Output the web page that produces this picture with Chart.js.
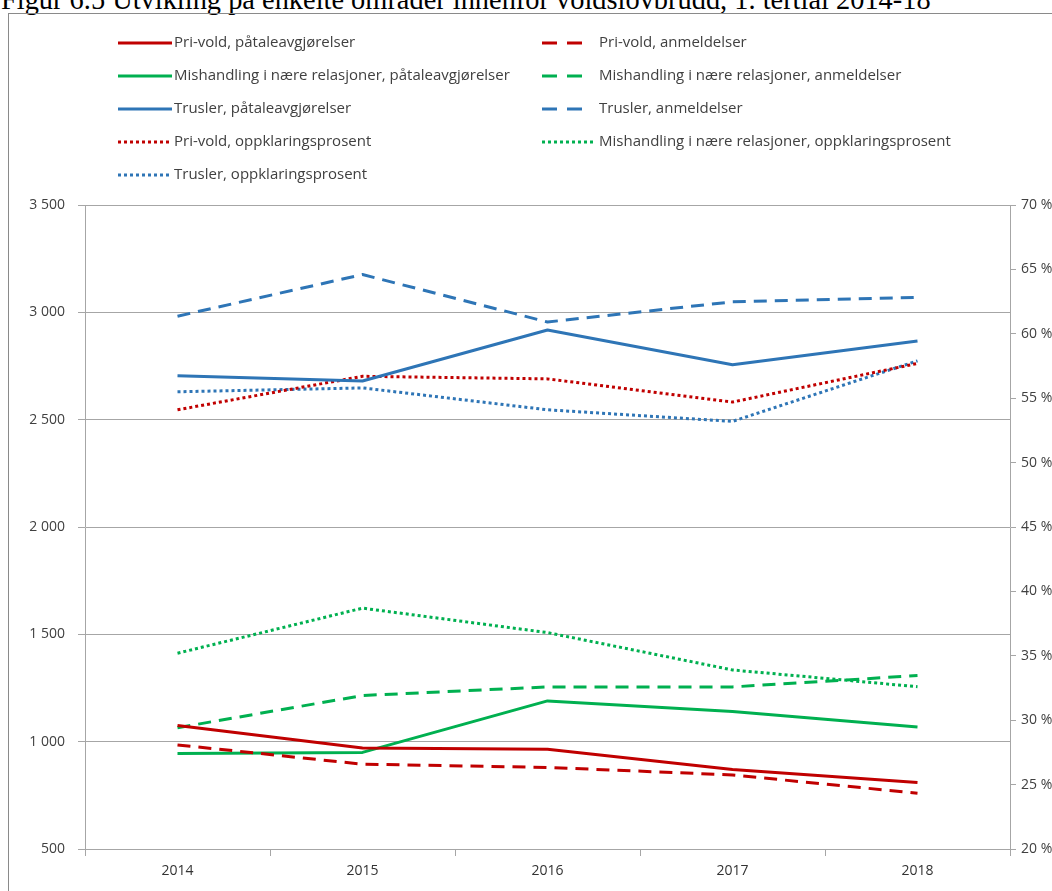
<!DOCTYPE html>
<html>
<head>
<meta charset="utf-8">
<script src="https://cdn.jsdelivr.net/npm/chart.js@4.4.1/dist/chart.umd.min.js"></script>
<style>
  html, body { margin:0; padding:0; background:#fff; width:1052px; height:891px; overflow:hidden; }
  #title { position:absolute; left:1px; top:-14px; font-family:"Liberation Serif", "Times New Roman", serif; font-size:28.4px; line-height:28px; color:#000; white-space:nowrap; }
  #frame { position:absolute; left:8px; top:13px; width:1100px; height:950px; border:1px solid #8a8a8a; }
  #wrap { position:absolute; left:9px; top:14px; width:1043px; height:877px; }
</style>
</head>
<body>
<div id="title">Figur 6.5 Utvikling på enkelte områder innenfor voldslovbrudd, 1. tertial 2014-18</div>
<div id="frame"></div>
<div id="wrap"><canvas id="c" width="1043" height="877"></canvas></div>
<script>
// ---- data ----
const years = ['2014', '2015', '2016', '2017', '2018'];
const priVoldPatale   = [1075, 970, 965, 870, 810];
const priVoldAnmeld   = [985, 895, 880, 845, 760];
const mishPatale      = [945, 950, 1190, 1140, 1068];
const mishAnmeld      = [1065, 1215, 1255, 1255, 1308];
const truslerPatale   = [2705, 2680, 2918, 2756, 2866];
const truslerAnmeld   = [2982, 3176, 2955, 3049, 3070];
const priVoldOpp      = [54.1, 56.7, 56.5, 54.7, 57.7];
const mishOpp         = [35.2, 38.7, 36.8, 33.9, 32.6];
const truslerOpp      = [55.5, 55.8, 54.1, 53.2, 57.9];

const RED = '#C00000', GREEN = '#00B050', BLUE = '#2E75B6';
const DASH = [13, 8], DOT = [3, 3];

function ds(label, data, color, dash, axis) {
  return { label, data, borderColor: color, backgroundColor: color, borderWidth: 3,
    borderDash: dash, borderCapStyle: 'butt', borderJoinStyle: 'round', pointRadius: 0,
    pointHoverRadius: 0, tension: 0, fill: false, yAxisID: axis, _style: dash === DASH ? 'dash' : (dash === DOT ? 'dot' : 'solid') };
}

const datasets = [
  ds('Pri-vold, påtaleavgjørelser', priVoldPatale, RED, [], 'y'),
  ds('Pri-vold, anmeldelser', priVoldAnmeld, RED, DASH, 'y'),
  ds('Mishandling i nære relasjoner, påtaleavgjørelser', mishPatale, GREEN, [], 'y'),
  ds('Mishandling i nære relasjoner, anmeldelser', mishAnmeld, GREEN, DASH, 'y'),
  ds('Trusler, påtaleavgjørelser', truslerPatale, BLUE, [], 'y'),
  ds('Trusler, anmeldelser', truslerAnmeld, BLUE, DASH, 'y'),
  ds('Pri-vold, oppklaringsprosent', priVoldOpp, RED, DOT, 'y1'),
  ds('Mishandling i nære relasjoner, oppklaringsprosent', mishOpp, GREEN, DOT, 'y1'),
  ds('Trusler, oppklaringsprosent', truslerOpp, BLUE, DOT, 'y1'),
];

const legendPlugin = {
  id: 'gridLegend',
  afterDraw(chart) {
    const ctx = chart.ctx;
    ctx.save();
    const colX = [109, 533];
    chart.data.datasets.forEach((d, i) => {
      const row = Math.floor(i / 2), col = i % 2;
      const y = 29 + row * 33;
      const x0 = colX[col];
      ctx.strokeStyle = d.borderColor;
      ctx.lineWidth = 3;
      ctx.lineCap = 'butt';
      let len = 54;
      if (d._style === 'dash') { ctx.setLineDash([15, 10]); len = 40; }
      else if (d._style === 'dot') { ctx.setLineDash([3, 3]); len = 53; }
      else { ctx.setLineDash([]); len = 54; }
      ctx.beginPath();
      ctx.moveTo(x0, y);
      ctx.lineTo(x0 + len, y);
      ctx.stroke();
      ctx.setLineDash([]);
      ctx.fillStyle = '#404040';
      ctx.font = '15px "Open Sans", sans-serif';
      ctx.textBaseline = 'middle';
      ctx.textAlign = 'left';
      ctx.fillText(d.label, x0 + (col === 0 ? 56 : 57), y);
    });
    ctx.restore();
  }
};

const tickFont = { family: '"Open Sans", sans-serif', size: 14 };
const GRID = '#a6a6a6';

new Chart(document.getElementById('c'), {
  type: 'line',
  data: { labels: years, datasets },
  plugins: [legendPlugin],
  options: {
    responsive: false,
    animation: false,
    devicePixelRatio: 1,
    layout: { padding: { top: 191, left: 0, right: 0, bottom: 0 } },
    plugins: { legend: { display: false }, tooltip: { enabled: false }, title: { display: false } },
    scales: {
      x: {
        type: 'category',
        offset: true,
        grid: { offset: true, drawOnChartArea: false, drawTicks: true, tickLength: 7, color: GRID },
        border: { display: true, color: GRID, width: 1 },
        ticks: { color: '#333333', font: { family: '"Liberation Sans Narrow", "Open Sans", sans-serif', size: 14 }, padding: 7, maxRotation: 0 },
        afterFit(s) { s.height = 42; }
      },
      y: {
        position: 'left',
        min: 500, max: 3500,
        ticks: { stepSize: 500, color: '#404040', font: tickFont, padding: 13,
          callback: v => String(v).replace(/\B(?=(\d{3})+(?!\d))/g, ' ') },
        grid: { color: GRID, tickLength: 7, drawTicks: true },
        border: { display: true, color: GRID, width: 1 },
        afterFit(s) { s.width = 76; }
      },
      y1: {
        position: 'right',
        min: 20, max: 70,
        ticks: { stepSize: 5, color: '#404040', font: tickFont, padding: 5,
          callback: v => v + ' %' },
        grid: { drawOnChartArea: false, tickLength: 6, color: GRID },
        border: { display: true, color: GRID, width: 1 },
        afterFit(s) { s.width = 42; }
      }
    }
  }
});
</script>
</body>
</html>
